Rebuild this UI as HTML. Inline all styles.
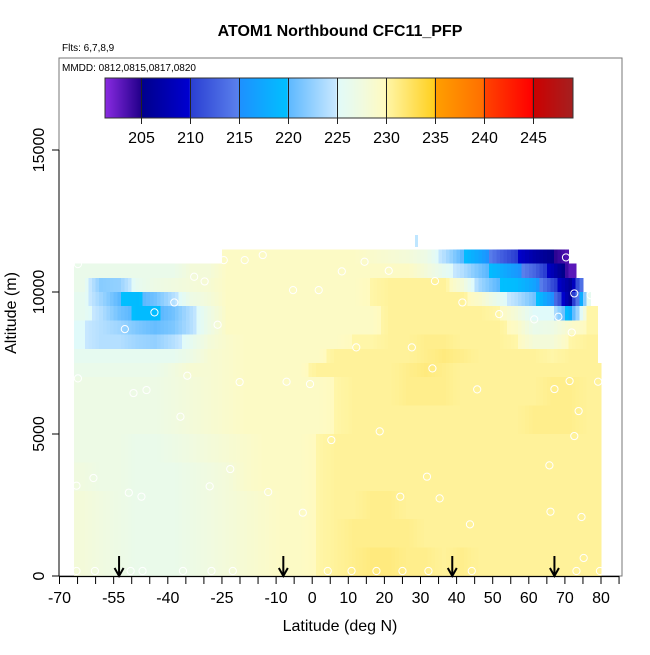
<!DOCTYPE html>
<html><head><meta charset="utf-8"><style>
html,body{margin:0;padding:0;background:#fff;}
svg text{font-family:"Liberation Sans",Arial,sans-serif;}
</style></head><body>
<svg id="chart" width="650" height="650" viewBox="0 0 650 650" xmlns="http://www.w3.org/2000/svg">
<text x="340" y="36" text-anchor="middle" font-size="16" font-weight="bold">ATOM1 Northbound CFC11_PFP</text>
<text x="62" y="51" font-size="10">Flts: 6,7,8,9</text>
<rect x="59" y="58" width="563" height="518" fill="none" stroke="#777" stroke-width="1"/>
<text x="62" y="71" font-size="10">MMDD: 0812,0815,0817,0820</text>
<g id="cells" shape-rendering="crispEdges"></g>
<g id="pts"></g>
<g id="arrows"></g>
<g id="cbar" shape-rendering="crispEdges"></g>
<g id="xaxis"></g>
<g id="yaxis"></g>
<text x="340" y="631" text-anchor="middle" font-size="16">Latitude (deg N)</text>
<text transform="translate(16,313) rotate(-90)" text-anchor="middle" font-size="16">Altitude (m)</text>
</svg>
<script>
const latEdges=[-66,-61,-56,-51,-46,-41,-36,-31,-26,-21,-16,-11,-6,-1,4,9,14,19,24,29,34,39,44,49,54,59,64,69,74,79,84];
const altBottom=[11000,10500,10000,9500,9000,8500,8000,7500,7000,6000,5000,4000,3000,2000,1000,0];
const altTop=[11500,11000,10500,10000,9500,9000,8500,8000,7500,7000,6000,5000,4000,3000,2000,1000];
const rowLatMin=[-25,-66,-66,-66,-66,-66,-66,-66,-66,-66,-66,-66,-66,-66,-66,-67];
const rowLatMax=[71,73,75,77,79,79,79,79,80,80,80,80,80,80,80,80];
const N=null;
const vals=[
[N,N,N,N,N,N,N,N,229.5,229.5,229.5,229.5,229.5,229.5,229.5,229.5,229,228.5,228,227,224,220,217,213,210,207,205,203,N,N],
[226.5,226.5,226.5,226.5,226.5,226.5,228,228,229.5,229.5,229.5,229.5,229.5,229.5,229.5,229.5,229.5,229.5,229.5,228,226,224,221,218.5,216,213,208,203,N,N],
[226.5,222,222.5,226,227,227.5,228,228.5,229.5,229.5,229.5,229.5,229.5,229.5,229.5,229.5,230,230.5,230.5,230.5,230.5,228,223,220,219.5,217,211,206,219,N],
[226,223,220,219.5,221,224,227,228,229.5,229.5,229.5,229.5,229.5,229.5,229.5,229.5,230,230.5,230.5,230.5,230.5,230.5,229,226,224,221,215,206,226,N],
[226,224,221,219.5,219.5,221,224,227,229.5,229.5,229.5,229.5,229.5,229.5,229.5,229.5,229.5,230.5,230.5,230.5,230.5,230.5,230.5,230,228,225,225,218,230,N],
[225,224,223,221.5,220.5,221.5,224,227,229.5,229.5,229.5,229.5,229.5,229.5,229.5,229.5,229.5,230.5,230.5,230.5,230.5,230.5,230.5,230.5,229.5,226.5,227,229,230,N],
[225,224,224,223,222.5,224,226,228,229,229.5,229.5,229.5,229.5,229.5,229.5,230,230,230.5,230.5,231,231,230.5,230.5,230.5,230,228,228,230,230.5,N],
[226,226,226,226,226,226,227,228.5,229,229.5,229.5,229.5,229.5,229.5,230.5,230.5,230.5,230.5,230.5,231,231.5,231,230.5,230.5,230.5,230.5,230,230.5,230.5,N],
[226.5,226.5,226.5,226.5,226.5,227.5,228.5,228.5,229,229.5,229.5,229.5,229.5,230.5,230.5,230.5,230.5,230.5,231,231.5,231,230.5,230.5,230.5,230.5,230.5,230.5,230.5,230.5,230.5],
[227,227,227,227,227,227.5,228,228.5,229,229.5,229.5,229.5,229.5,229.5,230,230.5,230.5,230.5,231,231,231,230.5,230.5,230.5,230.5,230.5,231,231,230.5,230.5],
[227,227,227,227,227,227.5,228,228.5,229,229.5,229.5,229.5,229.5,229.5,230,230.5,230.5,230.5,230.5,230.5,230.5,230.5,230.5,230.5,230.5,231,231,231,230.5,230.5],
[227,227,227,226.5,226.5,227,227.5,228,228.5,229,229.5,229.5,229.5,230,230.5,230.5,230.5,230.5,230.5,230.5,230.5,230.5,230.5,230.5,230.5,230.5,230.5,230.5,230.5,230.5],
[227.5,227,227,226.5,226.5,226.5,227,227.5,228,229,229.5,229.5,229.5,230,230.5,230.5,230.5,230.5,230.5,230.5,230.5,230.5,230.5,230.5,230.5,230.5,230.5,230.5,230.5,230.5],
[228,227.5,227,226.5,226.5,226.5,227,227.5,228,228.5,229,229.5,229.5,230,230.5,230.5,231,231,230.5,230.5,230.5,230.5,230.5,230.5,230.5,230.5,230.5,230.5,230.5,230.5],
[228,227.5,227,226.5,226.5,226.5,227,227.5,228,228.5,229,229.5,229.5,230,230.5,231,231,231,231,230.5,230.5,230.5,230.5,230.5,230.5,230.5,230.5,230.5,230.5,230.5],
[228,227.5,227,226.5,226.5,226.5,227,227.5,228,228.5,229,229.5,229.5,230,230.5,231,231.5,231.5,231,231,230.5,231,230.5,230.5,230.5,230.5,230.5,230.5,230.5,230.5]
];
const ptLat=[-24.5,-18.7,-13.7,14.5,70.3,-64.9,-32.7,-29.8,8.2,21.2,34.0,-5.3,1.8,72.6,77.1,-38.2,41.6,-43.7,51.8,61.5,68.2,-51.9,-26.2,71.9,12.2,27.6,33.3,-64.9,-34.6,-20.1,-7.1,-0.6,45.7,67.1,71.3,79.2,-49.5,-45.9,-36.5,73.8,18.7,5.3,72.6,-22.7,65.7,31.8,-60.6,-65.3,-28.4,-50.8,-47.3,-12.2,24.4,35.3,-2.6,66.0,74.6,43.7,75.2,-65.3,-60.2,-50.3,-47.0,-35.8,-27.9,-22.0,4.3,10.9,17.8,25.0,32.2,44.2,73.2,79.7];
const ptAlt=[11123,11123,11300,11065,11217,10982,10536,10372,10725,10748,10384,10067,10067,9950,9891,9633,9633,9282,9222,9035,9129,8694,8847,8577,8049,8049,7310,6958,7052,6829,6841,6758,6571,6582,6864,6841,6442,6547,5608,5808,5093,4787,4928,3766,3896,3497,3450,3180,3156,2933,2793,2957,2793,2733,2229,2265,2077,1818,634,176,176,176,176,176,176,176,176,176,176,176,176,176,176,176];
const arrowLat=[-53.5,-8,38.8,67.1];
const xTicks=[-70,-65,-60,-55,-50,-45,-40,-35,-30,-25,-20,-15,-10,-5,0,5,10,15,20,25,30,35,40,45,50,55,60,65,70,75,80,85];
const xLabels=[-70,-55,-40,-25,-10,0,10,20,30,40,50,60,70,80];
const yTicks=[0,5000,10000,15000];
const cbTicks=[205,210,215,220,225,230,235,240,245];
const cbMin=201.3, cbMax=249.1;

const NS='http://www.w3.org/2000/svg';
function X(lat){return 59.5+(lat+70)*3.61;}
function Y(alt){return 576-alt*142/5000;}
function el(tag,attrs,parent){const e=document.createElementNS(NS,tag);for(const k in attrs)e.setAttribute(k,attrs[k]);parent.appendChild(e);return e;}
const stops=[[201.3,'#8a2be2'],[204.9,'#24008c'],[205,'#00008b'],[209.9,'#0000d0'],[210,'#2a3ed2'],[214.9,'#5a80ec'],[215,'#1e90ff'],[219.9,'#00bfff'],[220,'#5cb8ff'],[224.9,'#c8e8ff'],[225,'#e0fafa'],[227.5,'#f0fae0'],[229.9,'#fffac0'],[230,'#fff6a8'],[234.9,'#ffd020'],[235,'#ffa000'],[239.9,'#ff7000'],[240,'#ff4400'],[244.9,'#ff0000'],[245,'#cc0000'],[249.1,'#a52020']];
function hex(h){return [1,3,5].map(i=>parseInt(h.substr(i,2),16));}
function cmap(v){
  if(v<=stops[0][0])return stops[0][1];
  for(let i=1;i<stops.length;i++){if(v<=stops[i][0]){const a=hex(stops[i-1][1]),b=hex(stops[i][1]);const t=(v-stops[i-1][0])/(stops[i][0]-stops[i-1][0]);return 'rgb('+a.map((c,j)=>Math.round(c+(b[j]-c)*t)).join(',')+')';}}
  return stops[stops.length-1][1];
}
const cells=document.getElementById('cells');
const SUB=5;
vals.forEach((row,r)=>{row.forEach((v,c)=>{
  if(v===null)return;
  const cw=latEdges[c+1]-latEdges[c];
  const cc=(latEdges[c]+latEdges[c+1])/2;
  for(let s=0;s<SUB;s++){
    let a=latEdges[c]+cw*s/SUB,b=latEdges[c]+cw*(s+1)/SUB;
    const l0=Math.max(a,rowLatMin[r]),l1=Math.min(b,rowLatMax[r]);
    if(l1<=l0)continue;
    const m=(a+b)/2;
    let val=v;
    if(m<cc&&c>0&&row[c-1]!==null){const t=(cc-m)/cw;val=v+(row[c-1]-v)*t;}
    else if(m>cc&&c<row.length-1&&row[c+1]!==null){const t=(m-cc)/cw;val=v+(row[c+1]-v)*t;}
    const x0=X(l0),x1=X(l1),y0=Y(altTop[r]),y1=Y(altBottom[r]);
    const rc=el('rect',{x:x0.toFixed(1),y:y0.toFixed(1),width:(x1-x0+0.6).toFixed(1),height:(y1-y0+0.5).toFixed(1),fill:cmap(val)},cells);
    
    
  }
});});
const spec=el('rect',{x:X(28.5),y:Y(12000),width:3,height:12,fill:'#bfe6ff'},cells);


const pts=document.getElementById('pts');
ptLat.forEach((la,i)=>{
  const c=el('circle',{cx:X(la),cy:Y(ptAlt[i]),r:3.6,fill:'none',stroke:'#fff','stroke-width':1},pts);
  
  
});
const ar=document.getElementById('arrows');
arrowLat.forEach(la=>{
  const x=X(la);
  const g=el('g',{},ar);
  
  
  el('line',{x1:x,y1:556,x2:x,y2:576,stroke:'#000','stroke-width':2},g);
  el('polyline',{points:(x-4.5)+',568 '+x+',576 '+(x+4.5)+',568',fill:'none',stroke:'#000','stroke-width':2},g);
});
const cb=document.getElementById('cbar');
const cbX=(v)=>105+(v-cbMin)/(cbMax-cbMin)*468;
for(let px=105;px<573;px++){
  const v=cbMin+(px+0.5-105)/468*(cbMax-cbMin);
  el('rect',{x:px,y:78,width:1.2,height:40,fill:cmap(v)},cb);
}
el('rect',{x:105,y:78,width:468,height:40,fill:'none',stroke:'#333','stroke-width':1},cb);
cbTicks.forEach(t=>{
  const x=Math.round(cbX(t))+0.5;
  el('line',{x1:x,y1:78,x2:x,y2:124,stroke:'#222','stroke-width':1},cb);
  const tx=el('text',{x:x,y:143,'text-anchor':'middle','font-size':16},cb);
  tx.textContent=t;
  
  
});
const xa=document.getElementById('xaxis');
el('line',{x1:X(-70),y1:576.5,x2:X(85),y2:576.5,stroke:'#000','stroke-width':1.2},xa);
xTicks.forEach(t=>{el('line',{x1:X(t),y1:576,x2:X(t),y2:584,stroke:'#000','stroke-width':1},xa);});
xLabels.forEach(t=>{
  const tx=el('text',{x:X(t),y:603,'text-anchor':'middle','font-size':16},xa);
  tx.textContent=t;
  
  
});
const ya=document.getElementById('yaxis');
el('line',{x1:59,y1:Y(0),x2:59,y2:Y(15000),stroke:'#000','stroke-width':1},ya);
yTicks.forEach(t=>{
  el('line',{x1:52,y1:Y(t),x2:59,y2:Y(t),stroke:'#000','stroke-width':1},ya);
  const tx=el('text',{transform:'translate(44,'+Y(t)+') rotate(-90)','text-anchor':'middle','font-size':16},ya);
  tx.textContent=t;
  
  
});
</script>
</body></html>
